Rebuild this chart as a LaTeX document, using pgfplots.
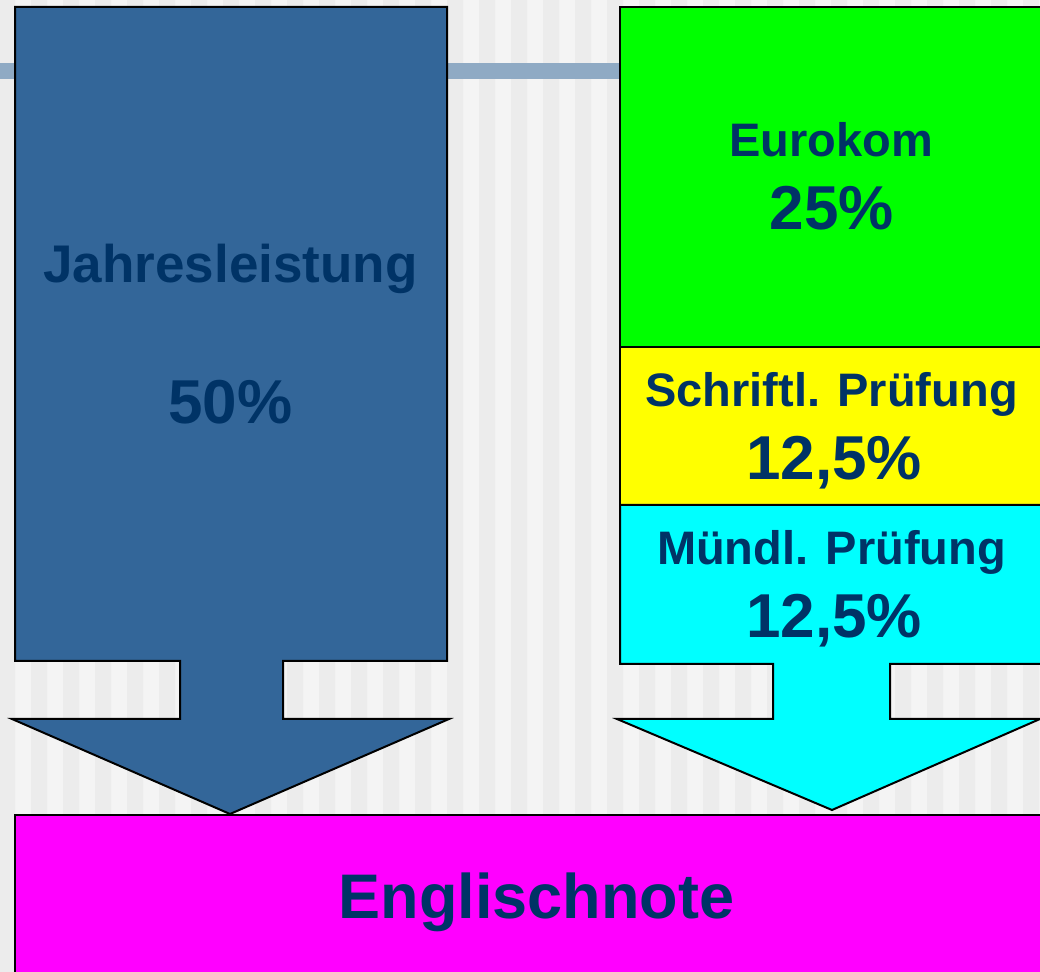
\documentclass[border=0pt]{standalone}
\usepackage{pgfplots}
\pgfplotsset{compat=1.18}
\usepackage{fontspec}
\setmainfont{Liberation Sans}
\definecolor{bgdark}{RGB}{236,236,236}
\definecolor{bglight}{RGB}{244,244,244}
\definecolor{band}{RGB}{143,170,196}
\definecolor{jblue}{RGB}{51,102,153}
\definecolor{txt}{RGB}{0,51,102}
\definecolor{pgreen}{RGB}{0,255,0}
\definecolor{pyellow}{RGB}{255,255,0}
\definecolor{pcyan}{RGB}{0,255,255}
\definecolor{pmagenta}{RGB}{255,0,255}
\begin{document}
\begin{tikzpicture}
\begin{axis}[
  x=0.5pt, y=0.5pt,
  xmin=0, xmax=1040, ymin=0, ymax=972,
  y dir=reverse,
  hide axis,
  clip=true,
  clip bounding box=upper bound,
  axis background/.style={fill=bglight},
]
% background stripes
\addplot[ybar interval, fill=bgdark, draw=none] coordinates {
(0,972)(15,0)(31,972)(47,0)(63,972)(79,0)(95,972)(111,0)(127,972)(143,0)(159,972)(175,0)(191,972)(207,0)(223,972)(239,0)(255,972)(271,0)(287,972)(303,0)(319,972)(335,0)(351,972)(367,0)(383,972)(399,0)(415,972)(431,0)(447,972)(463,0)(479,972)(495,0)(511,972)(527,0)(543,972)(559,0)(575,972)(591,0)(607,972)(623,0)(639,972)(655,0)(671,972)(687,0)(703,972)(719,0)(735,972)(751,0)(767,972)(783,0)(799,972)(815,0)(831,972)(847,0)(863,972)(879,0)(895,972)(911,0)(927,972)(943,0)(959,972)(975,0)(991,972)(1007,0)(1023,972)(1039,0)(1055,0)};
% horizontal band
\addplot[fill=band, draw=none] coordinates {(0,63)(640,63)(640,79)(0,79)} --cycle;
% blue box with arrow
\addplot[fill=jblue, draw=black, line width=1pt, line join=miter] coordinates {
(15,7)(447,7)(447,661)(283,661)(283,719)(449,719)(230,814)(12,719)(180,719)(180,661)(15,661)} --cycle;
% green
\addplot[fill=pgreen, draw=black, line width=1pt] coordinates {(620,7)(1050,7)(1050,347)(620,347)} --cycle;
% yellow
\addplot[fill=pyellow, draw=black, line width=1pt] coordinates {(620,347)(1050,347)(1050,505)(620,505)} --cycle;
% cyan with arrow
\addplot[fill=pcyan, draw=black, line width=1pt, line join=miter] coordinates {
(620,505)(1050,505)(1050,664)(890,664)(890,719)(1040,719)(832,810)(617,719)(773,719)(773,664)(620,664)} --cycle;
% magenta
\addplot[fill=pmagenta, draw=black, line width=1pt] coordinates {(15,815)(1050,815)(1050,990)(15,990)} --cycle;
% texts
\node[anchor=base, text=txt, font=\fontsize{26.5}{30}\selectfont\bfseries] at (axis cs:230.5,283) {Jahresleistung};
\node[anchor=base, text=txt, font=\fontsize{31}{36}\selectfont\bfseries] at (axis cs:230.5,424) {50\%};
\node[anchor=base, text=txt, font=\fontsize{23.5}{28}\selectfont\bfseries] at (axis cs:831,157) {Eurokom};
\node[anchor=base, text=txt, font=\fontsize{31}{36}\selectfont\bfseries] at (axis cs:832,230) {25\%};
\node[anchor=base, text=txt, font=\fontsize{23.5}{28}\selectfont\bfseries] at (axis cs:831.5,407) {Schriftl. Prüfung};
\node[anchor=base, text=txt, font=\fontsize{31}{36}\selectfont\bfseries] at (axis cs:834,480) {12,5\%};
\node[anchor=base, text=txt, font=\fontsize{23.5}{28}\selectfont\bfseries] at (axis cs:831.5,565) {Mündl. Prüfung};
\node[anchor=base, text=txt, font=\fontsize{31}{36}\selectfont\bfseries] at (axis cs:834,638) {12,5\%};
\node[anchor=base, text=txt, font=\fontsize{31.5}{36}\selectfont\bfseries] at (axis cs:536.5,919) {Englischnote};
\end{axis}
\end{tikzpicture}
\end{document}
